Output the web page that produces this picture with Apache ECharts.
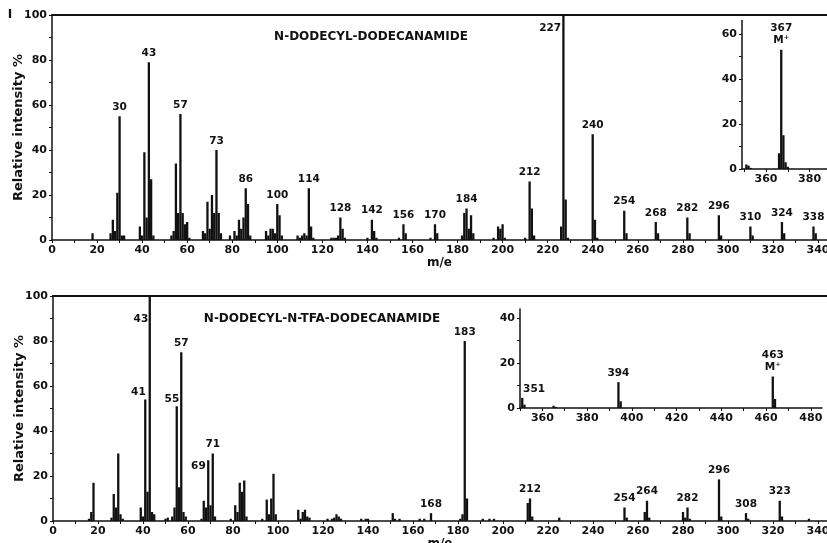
<!DOCTYPE html>
<html>
<head>
<meta charset="utf-8">
<script src="https://cdn.jsdelivr.net/npm/echarts@6/dist/echarts.min.js"></script>
<style>
  html, body { margin: 0; padding: 0; background: #fff; }
  #chart { width: 827px; height: 543px; }
</style>
</head>
<body>
<div id="chart"></div>
<script>
// spectrum I : N-dodecyl-dodecanamide  [m/e, relative intensity %]
const spec1 = [
  [18,3],[26,3],[27,9],[28,4],[29,21],[30,55],[31,2],[32,2],
  [39,6],[40,2],[41,39],[42,10],[43,79],[44,27],[45,2],
  [53,2],[54,4],[55,34],[56,12],[57,56],[58,12],[59,7],[60,8],[61,1],
  [67,4],[68,3],[69,17],[70,5],[71,20],[72,12],[73,40],[74,12],[75,3],
  [79,2],[81,4],[82,2],[83,9],[84,5],[85,10],[86,23],[87,16],[88,2],
  [95,4],[96,2],[97,5],[98,5],[99,3],[100,16],[101,11],[102,2],
  [109,2],[110,1],[111,2],[112,3],[113,2],[114,23],[115,6],[116,1],
  [124,1],[125,1],[126,1],[127,2],[128,10],[129,5],[130,1],
  [140,1],[142,9],[143,4],[144,1],
  [154,1],[156,7],[157,3],
  [168,1],[170,7],[171,3],
  [182,2],[183,12],[184,14],[185,5],[186,11],[187,3],
  [196,1],[198,6],[199,5],[200,7],[201,1],
  [210,1],[212,26],[213,14],[214,2],
  [226,6],[227,100],[228,18],[229,1],
  [240,47],[241,9],[242,1],
  [254,13],[255,3],
  [268,8],[269,3],
  [282,10],[283,3],
  [296,11],[297,2],
  [310,6],[311,2],
  [324,8],[325,3],
  [338,6],[339,3]
];
const spec1Inset = [[351,2],[352,1.5],[353,0.5],[366,7],[367,53],[368,15],[369,3],[370,1]];

// spectrum II : N-dodecyl-N-TFA-dodecanamide
const spec2 = [
  [16,1],[17,4],[18,17],[26,1.5],[27,12],[28,6],[29,30],[30,3],[31,1],
  [39,6],[40,2],[41,54],[42,13],[43,100],[44,4],[45,3],
  [50,1],[51,1.5],[53,2],[54,6],[55,51],[56,15],[57,75],[58,4],[59,2],
  [66,1],[67,9],[68,6],[69,27],[70,7],[71,30],[72,2],
  [79,1],[81,7],[82,4],[83,17],[84,13],[85,18],[86,2],
  [93,1],[95,9.5],[96,3],[97,10],[98,21],[99,3],
  [109,5],[110,1],[111,4],[112,5],[113,2],[114,1.5],
  [122,1],[124,1],[125,1.5],[126,3],[127,2],[128,1],
  [137,1],[139,1],[140,1],
  [151,3.5],[152,1],[154,1],
  [163,1],[165,1],[168,3.5],
  [181,1],[182,3],[183,80],[184,10],
  [191,1],[194,1],[196,1],
  [211,8],[212,10],[213,2],
  [225,1.5],
  [254,6],[255,1.5],
  [263,4],[264,9],[265,1.5],
  [280,4],[281,1.5],[282,6],[283,1],
  [296,18.5],[297,2],
  [308,3.5],[309,1],
  [323,9],[324,2],
  [336,1]
];
const spec2Inset = [[351,4.5],[352,1.5],[365,1],[366,0.5],[394,11.5],[395,3],[463,14],[464,4]];

// labelled peaks
const labels1 = [30,43,57,73,86,100,114,128,142,156,170,184,212,227,240,254,268,282,296,310,324,338];
const labels1Inset = { 367: '367\nM⁺' };
const labels2 = [41,43,55,57,69,71,168,183,212,254,264,282,296,308,323];
const labels2Inset = { 351: '351', 394: '394', 463: '463\nM⁺' };

// tick labels
const xTicksMain = [0,20,40,60,80,100,120,140,160,180,200,220,240,260,280,300,320,340];
const yTicksMain = [0,20,40,60,80,100];
const xTicksInset1 = [360,380];
const yTicksInset1 = [0,20,40,60];
const xTicksInset2 = [360,380,400,420,440,460,480];
const yTicksInset2 = [0,20,40];

// label placement tweaks (offset from bar top-left)
const labelOffsets = {
  main1: { 227: [-23, 7] },
  main2: { 43: [-15, 17], 41: [-13, -13], 55: [-11, -13], 69: [-16, 0] },
  inset2: { 351: [2, -15] }
};

const INK = '#111';
const FONT = 'DejaVu Sans';

function buildData(spec, labelMap, offsets) {
  return spec.map(([mz, v]) => {
    const text = labelMap[mz];
    if (!text) return { value: [mz, v] };
    const label = { show: true, formatter: text };
    if (offsets && offsets[mz]) label.position = offsets[mz];
    return { value: [mz, v], label };
  });
}

function toMap(list) {
  const m = {};
  list.forEach(v => { m[v] = String(v); });
  return m;
}

function tickEvery(min, max, step) {
  const out = [];
  for (let v = Math.ceil(min / step) * step; v <= max; v += step) out.push(v);
  return out;
}

function xAxis(gridIndex, min, max, labels, ticks, withName) {
  return {
    type: 'value', gridIndex, min, max,
    axisLine: { show: true, lineStyle: { color: INK, width: 1.5 } },
    axisTick: { show: true, length: 3, customValues: ticks, lineStyle: { color: INK } },
    axisLabel: { customValues: labels, color: INK, fontFamily: FONT, fontWeight: 'bold', fontSize: 11, margin: 5 },
    splitLine: { show: false },
    name: withName ? 'm/e' : '',
    nameLocation: 'middle', nameGap: 17,
    nameTextStyle: { color: INK, fontFamily: FONT, fontWeight: 'bold', fontSize: 12 }
  };
}

function yAxis(gridIndex, max, labels, ticks, withName) {
  return {
    type: 'value', gridIndex, min: 0, max,
    axisLine: { show: true, lineStyle: { color: INK, width: 1.5 } },
    axisTick: { show: true, length: 3, customValues: ticks, lineStyle: { color: INK } },
    axisLabel: { customValues: labels, color: INK, fontFamily: FONT, fontWeight: 'bold', fontSize: 11, margin: 5 },
    splitLine: { show: false },
    name: withName ? 'Relative intensity %' : '',
    nameLocation: 'middle', nameGap: 27, nameRotate: 90, nameMoveOverlap: false,
    nameTextStyle: { color: INK, fontFamily: FONT, fontWeight: 'bold', fontSize: 13 }
  };
}

function frameTop(gridIndex) {
  return {
    type: 'value', gridIndex, min: 0, max: 344, position: 'top',
    axisLine: { show: true, lineStyle: { color: INK, width: 2 } },
    axisTick: { show: false }, axisLabel: { show: false }, splitLine: { show: false }
  };
}

function barSeries(idx, data) {
  return {
    type: 'bar', xAxisIndex: idx, yAxisIndex: idx,
    barWidth: 2.3, itemStyle: { color: INK },
    label: { show: false, position: 'top', distance: 3, color: INK, fontFamily: FONT, fontWeight: 'bold', fontSize: 10.5, lineHeight: 12 },
    data, animation: false, silent: true
  };
}

const chart = echarts.init(document.getElementById('chart'), null, { renderer: 'canvas' });

chart.setOption({
  backgroundColor: '#fff',
  animation: false,
  grid: [
    { left: 52, top: 15, width: 775, height: 225, outerBoundsMode: 'none' },
    { left: 742, top: 20.5, width: 85, height: 148.5, outerBoundsMode: 'none' },
    { left: 53, top: 296, width: 774, height: 225, outerBoundsMode: 'none' },
    { left: 520, top: 309, width: 302, height: 99, outerBoundsMode: 'none' }
  ],
  xAxis: [
    xAxis(0, 0, 344, xTicksMain, tickEvery(0, 344, 10), true),
    xAxis(1, 349, 388, xTicksInset1, tickEvery(349, 388, 10), false),
    xAxis(2, 0, 344, xTicksMain, tickEvery(0, 344, 10), true),
    xAxis(3, 350, 485, xTicksInset2, tickEvery(350, 485, 10), false),
    frameTop(0),
    frameTop(2)
  ],
  yAxis: [
    yAxis(0, 100, yTicksMain, tickEvery(0, 100, 10), true),
    yAxis(1, 66, yTicksInset1, tickEvery(0, 66, 10), false),
    yAxis(2, 100, yTicksMain, tickEvery(0, 100, 10), true),
    yAxis(3, 44, yTicksInset2, tickEvery(0, 44, 10), false)
  ],
  series: [
    barSeries(0, buildData(spec1, toMap(labels1), labelOffsets.main1)),
    barSeries(1, buildData(spec1Inset, labels1Inset)),
    barSeries(2, buildData(spec2, toMap(labels2), labelOffsets.main2)),
    barSeries(3, buildData(spec2Inset, labels2Inset, labelOffsets.inset2))
  ],
  graphic: [
    { type: 'text', x: 371, y: 37, style: { text: 'N-DODECYL-DODECANAMIDE', fill: INK, font: 'bold 12px "DejaVu Sans"', align: 'center', verticalAlign: 'middle' } },
    { type: 'text', x: 322, y: 319, style: { text: 'N-DODECYL-N-TFA-DODECANAMIDE', fill: INK, font: 'bold 12px "DejaVu Sans"', align: 'center', verticalAlign: 'middle' } },
    { type: 'text', x: 10, y: 15, style: { text: 'I', fill: INK, font: 'bold 12px "DejaVu Sans"', align: 'center', verticalAlign: 'middle' } }
  ]
});
</script>
</body>
</html>
